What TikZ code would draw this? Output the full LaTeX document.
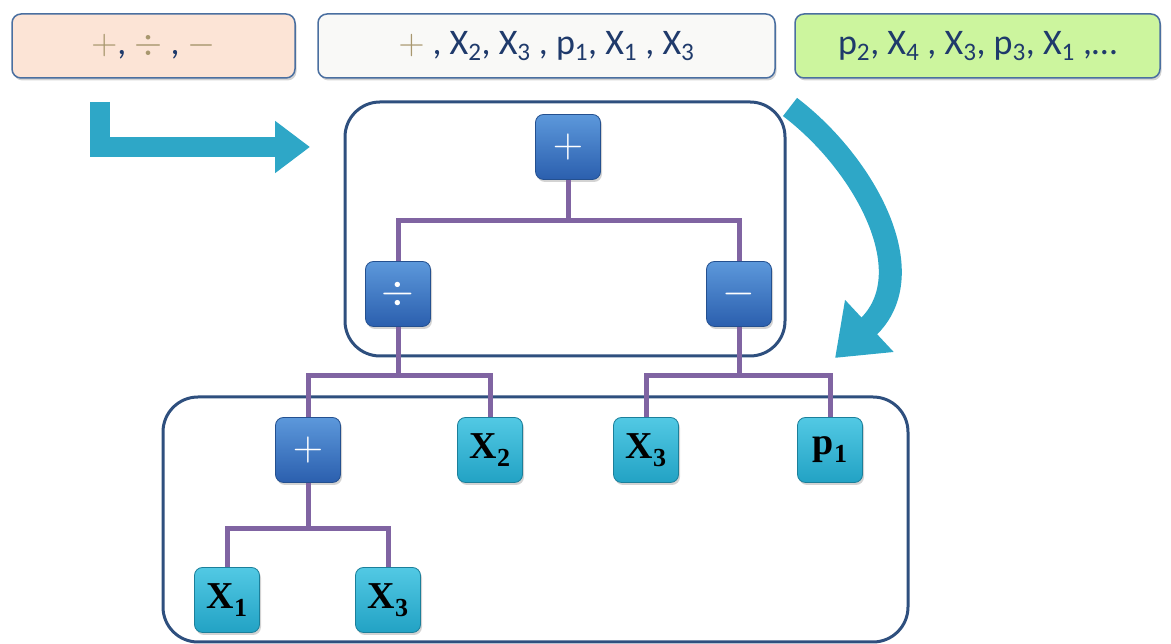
\RequirePackage{fix-cm}
\documentclass[tikz,border=0pt]{standalone}
\usepackage{fontspec}
\setmainfont{Carlito}
\newfontfamily\leaffont{Liberation Serif}
\usetikzlibrary{arrows.meta,shadows}
\definecolor{frameblue}{HTML}{2E4F7E}
\definecolor{boxedge}{HTML}{4A6FA0}
\definecolor{peach}{HTML}{FCE4D6}
\definecolor{offwhite}{HTML}{F9F9F7}
\definecolor{lime}{HTML}{CCF59E}
\definecolor{listtext}{HTML}{1F3A6B}
\definecolor{optan}{HTML}{A8976E}
\definecolor{linkpurple}{HTML}{8064A2}
\definecolor{optop}{HTML}{5C98DB}
\definecolor{opbot}{HTML}{2B5FAE}
\definecolor{opedge}{HTML}{24508F}
\definecolor{leaftop}{HTML}{52C9E4}
\definecolor{leafbot}{HTML}{22A2C4}
\definecolor{leafedge}{HTML}{1B7F9A}
\definecolor{flowcyan}{HTML}{2EA7C7}
\newcommand\opc[1]{\textcolor{optan}{#1}}
\newcommand\lsub[1]{\raisebox{-8pt}{\fontsize{26}{26}\selectfont #1}}
\begin{document}
\begin{tikzpicture}[x=1pt,y=1pt,
    listbox/.style={draw=boxedge, line width=1.5pt, rounded corners=9pt,
      minimum height=64pt, inner sep=0pt, text=listtext,
      font=\fontsize{36}{36}\selectfont,
      drop shadow={shadow xshift=1.5pt, shadow yshift=-2.5pt, opacity=0.35}},
    opnode/.style={draw=opedge, line width=0.8pt, rounded corners=8pt,
      top color=optop, bottom color=opbot, minimum size=65pt, inner sep=0pt,
      text=white, font=\fontsize{42}{42}\selectfont,
      drop shadow={shadow xshift=1.5pt, shadow yshift=-2.5pt, opacity=0.35}},
    leaf/.style={draw=leafedge, line width=0.8pt, rounded corners=8pt,
      top color=leaftop, bottom color=leafbot, minimum size=65pt, inner sep=0pt,
      font=\leaffont\bfseries\fontsize{38}{38}\selectfont,
      drop shadow={shadow xshift=1.5pt, shadow yshift=-2.5pt, opacity=0.35}},
    link/.style={draw=linkpurple, line width=5pt},
    frame/.style={draw=frameblue, line width=3pt, rounded corners=35pt},
    flow/.style={draw=flowcyan, line width=20pt}]
  \useasboundingbox (0,0) rectangle (1171,644);

  % lists of symbols
  \node [listbox, fill=peach, minimum width=283pt] (ops) at (153.5,598)
    {\opc{$+$}, \opc{$\div$} , \opc{$-$}};
  \node [listbox, fill=offwhite, minimum width=457pt] (seq) at (546.5,598)
    {\opc{$+$} , X\textsubscript{2}, X\textsubscript{3} , p\textsubscript{1}, X\textsubscript{1} , X\textsubscript{3}};
  \node [listbox, fill=lime, minimum width=365pt] (rest) at (977.5,598)
    {p\textsubscript{2}, X\textsubscript{4} , X\textsubscript{3}, p\textsubscript{3}, X\textsubscript{1} ,…};

  % groups
  \draw [frame] (345,288) rectangle (785,542);
  \draw [frame] (163,2) rectangle (908,247);

  % tree
  \node [opnode] (root) at (568,497) {$+$};
  \node [opnode] (div) at (398,350) {$\div$};
  \node [opnode] (minus) at (739,350) {$-$};
  \node [opnode] (sum) at (308,194) {$+$};
  \node [leaf] (xb) at (490,194) {X\lsub{2}};
  \node [leaf] (xc) at (646,194) {X\lsub{3}};
  \node [leaf] (pa) at (830,194) {p\lsub{1}};
  \node [leaf] (xa) at (227,44) {X\lsub{1}};
  \node [leaf] (xd) at (388,44) {X\lsub{3}};

  \draw [link] (root.south) -- ++(0,-40.5) coordinate (j1);
  \draw [link] (div.north) |- (j1) -| (minus.north);
  \draw [link] (div.south) -- ++(0,-48.5) coordinate (j2);
  \draw [link] (sum.north) |- (j2) -| (xb.north);
  \draw [link] (minus.south) -- ++(0,-48.5) coordinate (j3);
  \draw [link] (xc.north) |- (j3) -| (pa.north);
  \draw [link] (sum.south) -- ++(0,-45.5) coordinate (j4);
  \draw [link] (xa.north) |- (j4) -| (xd.north);

  % arrows
  \coordinate (bendstart) at (100,542);
  \coordinate (bendtip) at (310,497);
  \draw [flow, line join=miter, -{Triangle[width=50pt,length=35pt]}]
    (bendstart) |- (bendtip);
  \coordinate (curvestart) at (790,537);
  \coordinate (curvetip) at (835,286);
  \draw [flow, line width=23pt, -{Triangle[width=68pt,length=47pt]}]
    (curvestart) .. controls (865,480) and (925,370) .. (curvetip);
\end{tikzpicture}
\end{document}
